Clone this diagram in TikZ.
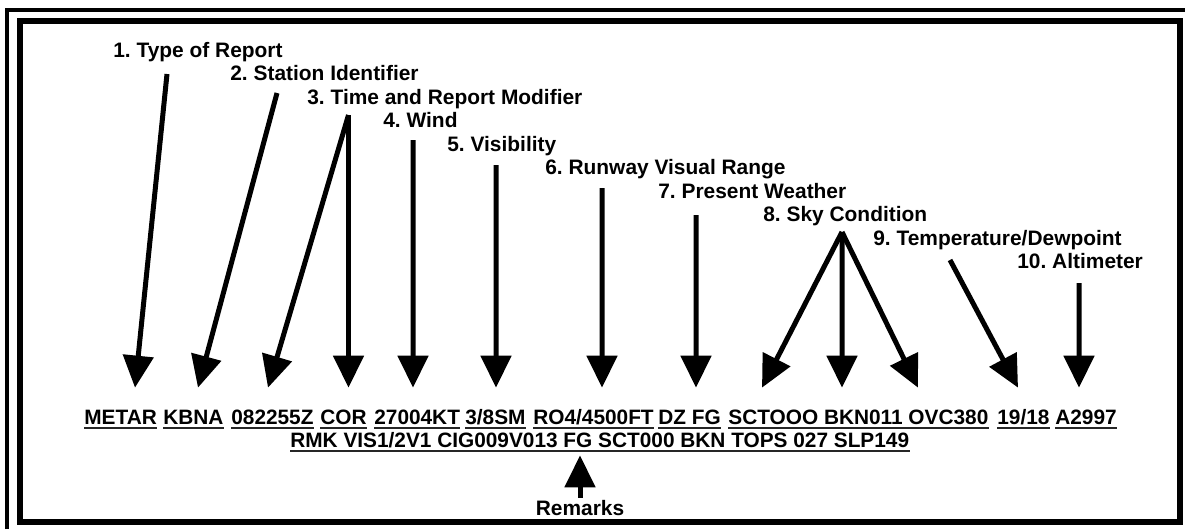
\documentclass[tikz,border=0pt]{standalone}
\usepackage{fontspec}
\setmainfont{Liberation Sans}
\usetikzlibrary{arrows.meta}
\frenchspacing
\begin{document}
\begin{tikzpicture}[
    lbl/.style={font=\fontsize{11.9}{14}\selectfont\bfseries, anchor=base west, inner sep=0pt},
    word/.style={font=\fontsize{11.85}{14}\selectfont\bfseries, anchor=base west, inner sep=0pt, text height=0.3cm, text depth=0pt},
    arr/.style={line width=0.1cm, -{Triangle[length=0.64cm, width=0.6cm]}},
    uline/.style={line width=0.04cm, black!85}]
  \useasboundingbox (0,0) rectangle (23.7,10.58);
  % Double frame
  \draw[line width=0.08cm] (0.14,0) -- (0.14,10.38) -- (23.7,10.38);
  \draw[line width=0.12cm] (0.40,0.14) rectangle (23.60,10.16);
  % Group labels, stepping down to the right
  \node[lbl] (ltype)    at (2.26,9.44)  {1. Type of Report};
  \node[lbl] (lstation) at (4.60,8.97)  {2. Station Identifier};
  \node[lbl] (ltime)    at (6.14,8.50)  {3. Time and Report Modifier};
  \node[lbl] (lwind)    at (7.66,8.03)  {4. Wind};
  \node[lbl] (lvis)     at (8.94,7.56)  {5. Visibility};
  \node[lbl] (lrvr)     at (10.90,7.09) {6. Runway Visual Range};
  \node[lbl] (lwx)      at (13.16,6.62) {7. Present Weather};
  \node[lbl] (lsky)     at (15.26,6.15) {8. Sky Condition};
  \node[lbl] (ltemp)    at (17.46,5.68) {9. Temperature/Dewpoint};
  \node[lbl] (lalt)     at (20.34,5.21) {10. Altimeter};
  % Coded report, first line
  \node[word] (metar) at (1.68,2.10)  {METAR};
  \node[word] (kbna)  at (3.26,2.10)  {KBNA};
  \node[word] (time)  at (4.62,2.10)  {082255Z};
  \node[word] (cor)   at (6.40,2.10)  {COR};
  \node[word] (wind)  at (7.48,2.10)  {27004KT};
  \node[word] (vis)   at (9.30,2.10)  {3/8SM};
  \node[word] (rvr)   at (10.66,2.10) {RO4/4500FT};
  \node[word] (wx)    at (13.16,2.10) {DZ FG};
  \node[word] (sky)   at (14.56,2.10) {SCTOOO BKN011 OVC380};
  \node[word] (temp)  at (19.94,2.10) {19/18};
  \node[word] (alt)   at (21.10,2.10) {A2997};
  % second line
  \node[word] (rmk)   at (5.80,1.64)  {RMK VIS1/2V1 CIG009V013 FG SCT000 BKN TOPS 027 SLP149};
  \foreach \w in {metar,kbna,time,cor,wind,vis,rvr,wx,sky,temp,alt,rmk}
    \draw[uline] ([yshift=-0.07cm]\w.base west) -- ([yshift=-0.07cm]\w.base east);
  % Arrow tails under the labels
  \coordinate (a1)  at (3.34,9.10);
  \coordinate (a2)  at (5.54,8.72);
  \coordinate (a3)  at (6.97,8.28);
  \coordinate (a4)  at (8.26,7.78);
  \coordinate (a5)  at (9.92,7.28);
  \coordinate (a6)  at (12.04,6.82);
  \coordinate (a7)  at (13.92,6.28);
  \coordinate (a8)  at (16.84,5.94);
  \coordinate (a9)  at (19.00,5.38);
  \coordinate (a10) at (21.58,4.92);
  % Arrows
  \draw[arr] (a1)  -- ([shift={(1.02,0.42)}]metar.north west);
  \draw[arr] (a2)  -- ([shift={(0.70,0.42)}]kbna.north west);
  \draw[arr] (a3)  -- ([shift={(0.74,0.42)}]time.north west);
  \draw[arr] (a3)  -- ([shift={(0.57,0.42)}]cor.north west);
  \draw[arr] (a4)  -- ([shift={(0.78,0.42)}]wind.north west);
  \draw[arr] (a5)  -- ([shift={(0.62,0.42)}]vis.north west);
  \draw[arr] (a6)  -- ([shift={(1.38,0.42)}]rvr.north west);
  \draw[arr] (a7)  -- ([shift={(0.76,0.42)}]wx.north west);
  \draw[arr] (a8)  -- ([shift={(0.68,0.42)}]sky.north west);
  \draw[arr] (a8)  -- ([shift={(2.28,0.42)}]sky.north west);
  \draw[arr] (a8)  -- ([shift={(3.80,0.42)}]sky.north west);
  \draw[arr] (a9)  -- ([shift={(0.42,0.42)}]temp.north west);
  \draw[arr] (a10) -- ([shift={(0.48,0.42)}]alt.north west);
  % Remarks
  \node[lbl, anchor=base] (remarks) at (11.60,0.28) {Remarks};
  \draw[arr] ([yshift=0.04cm]remarks.north) -- ([yshift=-0.16cm]remarks.north |- rmk.south);
\end{tikzpicture}
\end{document}
